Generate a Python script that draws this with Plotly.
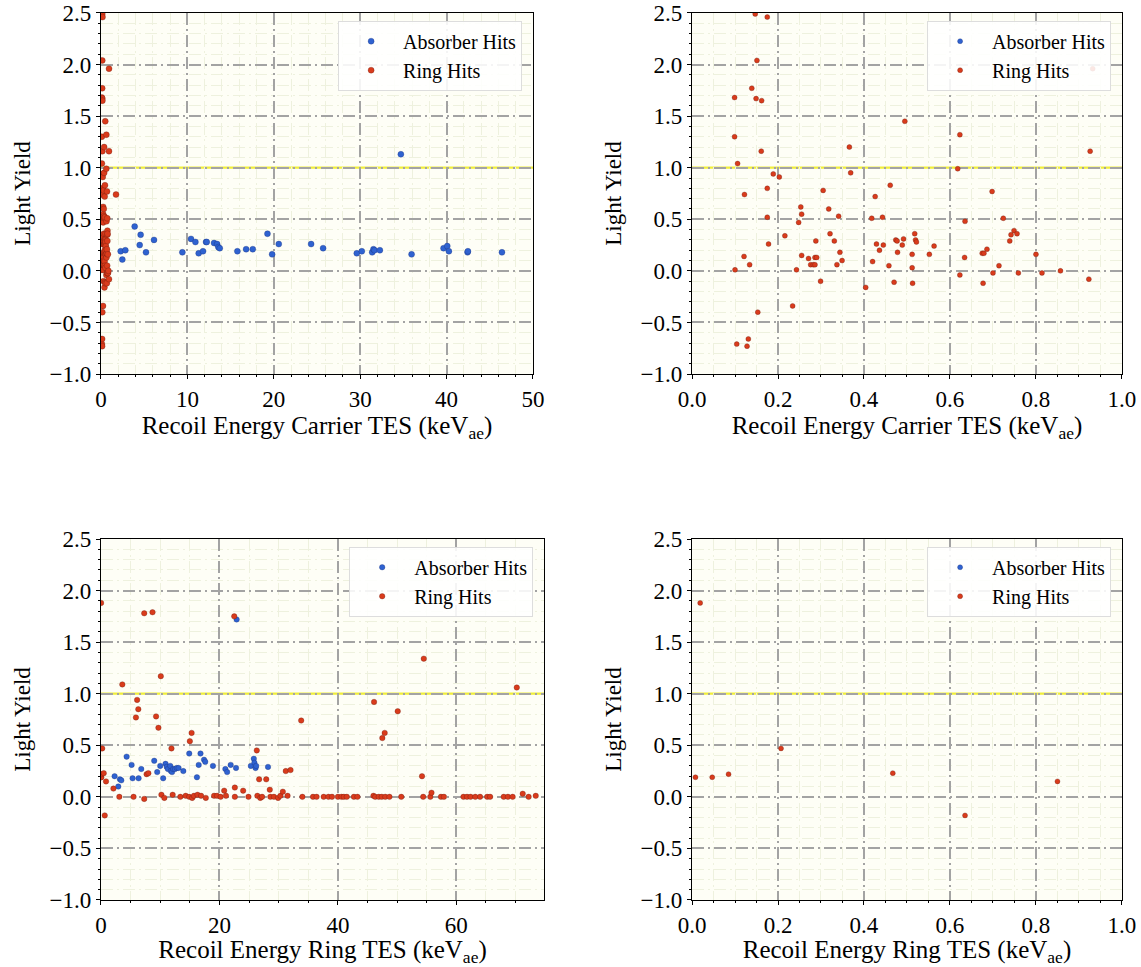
import plotly.graph_objects as go

# ---------------- data ----------------
# Carrier TES: absorber hits (keV_ae, light yield)
CARRIER_ABS_X = [2.28, 2.47, 2.82, 3.9, 4.48, 4.59, 5.21, 6.14, 9.42, 10.42, 10.93, 11.31, 11.81,
                 12.16, 12.24, 13.09, 13.44, 13.59, 13.75, 15.79, 16.8, 17.57, 19.27, 19.81, 20.58,
                 24.32, 25.71, 29.61, 30.19, 31.39, 31.54, 31.66, 32.28, 34.71, 35.95, 39.65, 40.08,
                 40.27, 42.43, 42.47, 46.41]
CARRIER_ABS_Y = [0.19, 0.11, 0.20, 0.43, 0.25, 0.35, 0.18, 0.30, 0.18, 0.31, 0.28, 0.17, 0.19,
                 0.28, 0.28, 0.27, 0.26, 0.23, 0.22, 0.19, 0.21, 0.21, 0.36, 0.16, 0.26,
                 0.26, 0.22, 0.17, 0.19, 0.18, 0.21, 0.20, 0.20, 1.13, 0.16, 0.22, 0.24,
                 0.19, 0.18, 0.19, 0.18]

# Carrier TES: ring hits
CARRIER_RING_X = [0.147, 0.175, 0.151, 0.099, 0.139, 0.149, 0.162, 0.099, 0.161, 0.106, 0.189, 0.203,
                  0.122, 0.175, 0.175, 0.178, 0.100, 0.121, 0.134, 0.153, 0.104, 0.128, 0.131, 0.216,
                  0.234, 0.243, 0.248, 0.253, 0.255, 0.255, 0.271, 0.276, 0.282, 0.286, 0.290, 0.286,
                  0.288, 0.299, 0.305, 0.318, 0.321, 0.331, 0.337, 0.341, 0.344, 0.349, 0.366, 0.369,
                  0.404, 0.418, 0.420, 0.426, 0.429, 0.436, 0.443, 0.445, 0.458, 0.461, 0.470, 0.474,
                  0.477, 0.478, 0.489, 0.492, 0.495, 0.512, 0.512, 0.513, 0.518, 0.520, 0.522, 0.552,
                  0.563, 0.618, 0.623, 0.623, 0.634, 0.635, 0.675, 0.677, 0.679, 0.686, 0.698, 0.700,
                  0.714, 0.724, 0.739, 0.742, 0.749, 0.756, 0.759, 0.800, 0.814, 0.857, 0.923, 0.926,
                  0.932, 1.74]
CARRIER_RING_Y = [2.49, 2.46, 2.04, 1.68, 1.77, 1.67, 1.65, 1.30, 1.16, 1.04, 0.94, 0.91,
                  0.74, 0.80, 0.52, 0.26, 0.01, 0.14, 0.06, -0.40, -0.71, -0.73, -0.66, 0.34,
                  -0.34, 0.01, 0.47, 0.62, 0.55, 0.15, 0.12, 0.06, 0.06, 0.13, 0.13, 0.06,
                  0.29, -0.10, 0.78, 0.60, 0.36, 0.29, 0.06, 0.53, 0.18, 0.10, 1.20, 0.95,
                  -0.16, 0.51, 0.09, 0.72, 0.26, 0.20, 0.52, 0.25, 0.05, 0.83, -0.11, 0.30,
                  0.29, 0.18, 0.25, 0.31, 1.45, 0.16, 0.03, -0.12, 0.36, 0.30, 0.28, 0.16,
                  0.24, 0.99, 1.32, -0.04, 0.13, 0.48, 0.17, -0.12, 0.17, 0.21, 0.77, -0.02,
                  0.05, 0.51, 0.29, 0.35, 0.39, 0.36, -0.02, 0.16, -0.02, 0.00, -0.08, 1.16,
                  1.96, 0.74]

# Ring TES: absorber hits
RINGTES_ABS_X = [4.33, 5.17, 5.34, 6.35, 6.80, 2.30, 2.92, 3.20, 3.43, 8.99, 9.49, 10.0, 10.5,
                 10.9, 11.1, 11.3, 11.7, 11.8, 12.0, 12.2, 12.5, 12.8, 13.1, 13.9, 14.9, 16.2,
                 16.5, 16.8, 17.4, 17.6, 18.9, 21.0, 21.3, 21.9, 22.8, 22.9, 25.3, 25.8, 25.9,
                 26.1, 26.2, 28.2]
RINGTES_ABS_Y = [0.39, 0.31, 0.18, 0.18, 0.27, 0.20, 0.10, 0.17, 0.16, 0.35, 0.24, 0.30, 0.18,
                 0.32, 0.29, 0.27, 0.30, 0.25, 0.24, 0.27, 0.27, 0.28, 0.28, 0.25, 0.42, 0.19,
                 0.31, 0.42, 0.36, 0.34, 0.30, 0.27, 0.24, 0.31, 0.28, 1.72, 0.30, 0.37, 0.33,
                 0.28, 0.30, 0.29]

# Ring TES: ring hits
RINGTES_RING_X = [0.019, 0.008, 0.047, 0.085, 0.207, 0.467, 0.635, 0.850,
                  2.1, 3.1, 3.6, 5.5, 5.9, 6.1, 6.3, 7.3, 7.3, 7.7, 8.0, 8.7, 9.3, 9.7, 10.1,
                  10.2, 10.7, 11.9, 12.1, 13.4, 14.3, 15.0, 15.3, 14.9, 15.4, 15.7, 16.3, 16.9,
                  17.7, 19.1, 19.6, 20.2, 20.8, 21.1, 22.5, 22.6, 22.6, 24.0, 24.9, 26.3, 26.4,
                  26.7, 26.9, 27.2, 27.9, 28.5, 28.6, 29.2, 29.9, 30.3, 30.7, 31.2, 31.5, 32.0,
                  33.8, 34.0, 35.8, 36.4, 37.6, 38.4, 39.0, 40.0, 40.6, 41.0, 41.5, 42.7, 43.3,
                  46.0, 46.1, 46.3, 46.9, 47.4, 47.5, 47.9, 48.0, 48.7, 50.1, 50.7, 54.2, 54.4,
                  54.5, 55.6, 55.8, 57.4, 57.9, 61.2, 61.8, 62.4, 63.2, 64.0, 65.2, 65.7, 68.0,
                  68.7, 69.5, 70.2, 71.2, 72.2, 73.4]
RINGTES_RING_Y = [1.88, 0.19, 0.19, 0.22, 0.47, 0.23, -0.18, 0.15,
                  0.08, 0.00, 1.09, 0.00, 0.77, 0.94, 0.85, 1.78, -0.02, 0.22, 0.23, 1.79, 0.78, 0.67, 1.17,
                  0.02, -0.01, 0.47, 0.02, 0.00, 0.01, 0.54, 0.62, 0.00, -0.01, 0.01, 0.02, 0.01,
                  -0.01, 0.01, 0.01, 0.00, 0.06, 0.01, 1.75, 0.09, 0.00, 0.06, 0.00, 0.45, 0.01,
                  0.17, -0.01, 0.00, 0.17, 0.07, 0.00, 0.00, -0.01, 0.01, 0.05, 0.25, 0.01, 0.26,
                  0.74, 0.00, 0.00, 0.00, 0.00, 0.00, 0.00, 0.00, 0.00, 0.00, 0.00, 0.00, 0.00,
                  0.01, 0.92, 0.00, 0.00, 0.00, 0.57, 0.62, 0.00, 0.00, 0.83, 0.00, 0.20, 0.00,
                  1.34, 0.00, 0.04, 0.00, 0.00, 0.00, 0.00, 0.00, 0.00, 0.00, 0.00, 0.00, 0.00,
                  0.00, 0.00, 1.06, 0.03, 0.00, 0.01]

UNITY = 1.0
Y_RANGE = [-1.0, 2.5]

BLUE = "#2f62d0"
RED = "#d93b1c"
FONT = "Liberation Serif"

# ---------------- figure ----------------
fig = go.Figure()

panels = [
    ("x", "y", "legend", CARRIER_ABS_X, CARRIER_ABS_Y, CARRIER_RING_X, CARRIER_RING_Y,
     [0, 50], 10, 2, "d", "Recoil Energy Carrier TES (keV<sub>ae</sub>)", 6,
     [0.0885, 0.4671], [0.6132, 0.9866]),
    ("x2", "y2", "legend2", CARRIER_ABS_X, CARRIER_ABS_Y, CARRIER_RING_X, CARRIER_RING_Y,
     [0, 1], 0.2, 0.05, ".1f", "Recoil Energy Carrier TES (keV<sub>ae</sub>)", 5,
     [0.6065, 0.9833], [0.6132, 0.9866]),
    ("x3", "y3", "legend3", RINGTES_ABS_X, RINGTES_ABS_Y, RINGTES_RING_X, RINGTES_RING_Y,
     [0, 74.8], 20, 5, "d", "Recoil Energy Ring TES (keV<sub>ae</sub>)", 5.5,
     [0.0885, 0.4768], [0.0693, 0.4426]),
    ("x4", "y4", "legend4", RINGTES_ABS_X, RINGTES_ABS_Y, RINGTES_RING_X, RINGTES_RING_Y,
     [0, 1], 0.2, 0.05, ".1f", "Recoil Energy Ring TES (keV<sub>ae</sub>)", 5,
     [0.6065, 0.9833], [0.0693, 0.4426]),
]

fig.update_layout(
    width=1141, height=967,
    margin=dict(l=0, r=0, t=0, b=0),
    paper_bgcolor="white",
    plot_bgcolor="#fefef6",
    font_family=FONT, font_size=22, font_color="black",
    showlegend=True,
)

for (xa, ya, lg, ax_, ay_, rx_, ry_, xr, dt, mdt, fmt, xtitle, msize, xdom, ydom) in panels:
    for name, xs, ys, col in (("Absorber Hits", ax_, ay_, BLUE), ("Ring Hits", rx_, ry_, RED)):
        fig.add_trace(go.Scatter(
            x=xs, y=ys, mode="markers", name=name, xaxis=xa, yaxis=ya, legend=lg,
            marker=dict(color=col, size=msize,
                        line=dict(width=0.5, color="rgba(90,20,10,0.6)" if col == RED else "rgba(20,40,110,0.6)")),
            cliponaxis=True,
        ))
    xkey = "xaxis" + xa[1:]
    ykey = "yaxis" + ya[1:]
    common = dict(
        showline=True, linecolor="black", linewidth=1.3, mirror=True,
        ticks="outside", ticklen=4, tickwidth=1.2, tickcolor="black",
        showgrid=True, gridcolor="#a3a3a3", gridwidth=1.5, griddash="12px,4px,2px,4px",
        zeroline=False, automargin=False,
        tickfont=dict(family=FONT, size=23, color="black"),
    )
    xaxis_cfg = dict(
        common, domain=xdom, anchor=ya, range=xr, dtick=dt, tick0=0, tickformat=fmt,
        minor=dict(dtick=mdt, ticks="outside", ticklen=2, tickcolor="black",
                   showgrid=True, gridcolor="#eef1de", gridwidth=1),
        title=dict(text=xtitle, font=dict(family=FONT, size=25, color="black"), standoff=3),
    )
    yaxis_cfg = dict(
        common, domain=ydom, anchor=xa, range=Y_RANGE, dtick=0.5, tick0=0, tickformat=".1f",
        minor=dict(dtick=0.1, ticks="outside", ticklen=2, tickcolor="black",
                   showgrid=True, gridcolor="#eef1de", gridwidth=1),
        title=dict(text="Light Yield", font=dict(family=FONT, size=23, color="black"), standoff=12),
    )
    legend_cfg = dict(
        x=xdom[1] - 0.0095, y=ydom[1] - 0.008, xanchor="right", yanchor="top",
        bgcolor="rgba(255,255,255,0.88)", bordercolor="#dddddd", borderwidth=1,
        font=dict(family=FONT, size=20, color="black"), itemwidth=54,
    )
    fig.update_layout({xkey: xaxis_cfg, ykey: yaxis_cfg, lg: legend_cfg})
    fig.add_shape(type="line", xref=xa + " domain", yref=ya, x0=0, x1=1, y0=UNITY, y1=UNITY,
                  line=dict(color="#f0ee3a", width=2.2), layer="below")

fig.write_html("out.html")
